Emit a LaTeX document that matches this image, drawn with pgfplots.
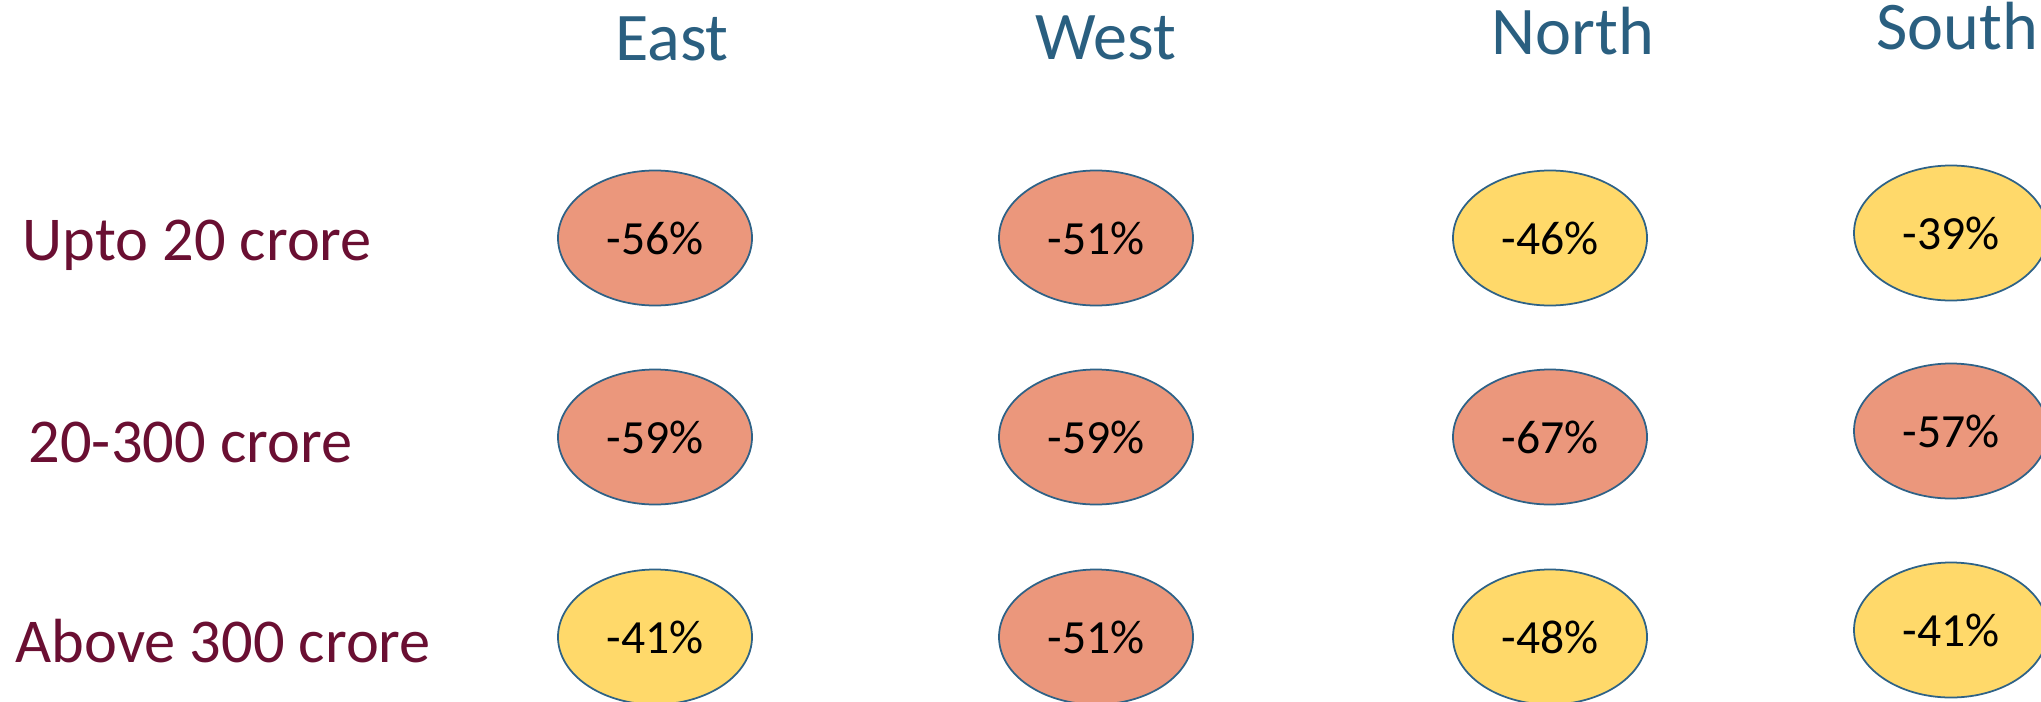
\documentclass[border=0pt]{standalone}
\usepackage{pgfplots}
\pgfplotsset{compat=1.18}
\usepackage{pgfplotstable}
\usepackage{fontspec}
\setmainfont{Carlito}
\definecolor{salmon}{HTML}{EB977C}
\definecolor{gold}{HTML}{FFD96A}
\definecolor{rim}{HTML}{2E6287}
\definecolor{head}{HTML}{2A5F80}
\definecolor{rowc}{HTML}{6A0F32}
\pgfdeclareplotmark{ell}{\pgfpathellipse{\pgfpointorigin}{\pgfqpoint{\pgfplotmarksize}{0pt}}{\pgfqpoint{0pt}{0.696\pgfplotmarksize}}\pgfusepathqfillstroke}
\pgfplotstableread{
x y label
655 238 -56
1096 238 -51
655 437 -59
1096 437 -59
1550 437 -67
1951 431 -57
1096 637 -51
}\salmondata
\pgfplotstableread{
x y label
1550 238 -46
1951 233 -39
655 637 -41
1550 637 -48
1951 630 -41
}\golddata
\begin{document}
\begin{tikzpicture}
\begin{axis}[
  width=20.41cm, height=7.01cm, scale only axis,
  xmin=0, xmax=2041, ymin=0, ymax=701, y dir=reverse,
  hide axis, clip=false,
  nodes near coords={\pgfplotspointmeta\%},
  point meta=explicit symbolic,
  nodes near coords style={anchor=center, text=black, font=\fontsize{13.55pt}{16pt}\selectfont, inner sep=0pt},
]
\addplot[only marks, mark=ell, mark size=27.6pt, mark options={fill=salmon, draw=rim, line width=0.5pt}]
  table[x=x, y=y, meta=label] {\salmondata};
\addplot[only marks, mark=ell, mark size=27.6pt, mark options={fill=gold, draw=rim, line width=0.5pt}]
  table[x=x, y=y, meta=label] {\golddata};
\begin{scope}[every node/.style={font=\fontsize{19.4pt}{23pt}\selectfont, text=head, inner sep=0pt}]
\node[anchor=base] at (axis cs:672,61) {East};
\node[anchor=base] at (axis cs:1106,60) {West};
\node[anchor=base] at (axis cs:1573,55) {North};
\node[anchor=base east] at (axis cs:2039,50) {South};
\end{scope}
\begin{scope}[every node/.style={font=\fontsize{17.75pt}{21pt}\selectfont, text=rowc, inner sep=0pt, anchor=base west}]
\node at (axis cs:22,260) {Upto 20 crore};
\node at (axis cs:28,462) {20-300 crore};
\node at (axis cs:15,662) {Above 300 crore};
\end{scope}
\end{axis}
\pgfresetboundingbox
\path[use as bounding box] (current axis.south west) rectangle (current axis.north east);
\end{tikzpicture}
\end{document}
